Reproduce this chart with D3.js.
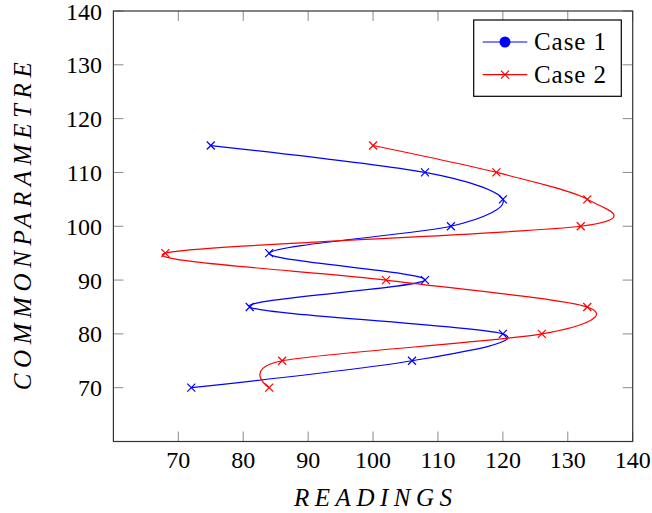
<!DOCTYPE html>
<html>
<head>
<meta charset="utf-8">
<script src="https://cdn.jsdelivr.net/npm/d3@7"></script>
<style>
  body { margin: 0; background: #fff; }
  svg text { font-family: "Liberation Serif", "DejaVu Serif", "Times New Roman", Times, serif; }
</style>
</head>
<body>
<script>
// Data
const params = [70, 75, 80, 85, 90, 95, 100, 105, 110, 115];
const case1 = [72, 106, 120, 81, 108, 84, 112, 120, 108, 75];
const case2 = [84, 86, 126, 133, 102, 68, 132, 133, 119, 100];
const ticks = [70, 80, 90, 100, 110, 120, 130, 140];

const width = 652, height = 513;
const plotLeft = 113.4, plotRight = 632.7, plotTop = 11, plotBottom = 441.5;

const svg = d3.select("body").append("svg")
	.attr("width", width)
	.attr("height", height);

const x = d3.scaleLinear().domain([60, 140]).range([plotLeft, plotRight]);
const y = d3.scaleLinear().domain([60, 140]).range([plotBottom, plotTop]);

// tick marks, all four sides, pointing inward
const tickLen = 10;
const tickG = svg.append("g").attr("stroke", "#8a8a8a").attr("stroke-width", 1);
ticks.forEach(t => {
	tickG.append("line").attr("x1", x(t)).attr("x2", x(t)).attr("y1", plotBottom).attr("y2", plotBottom - tickLen);
	tickG.append("line").attr("x1", x(t)).attr("x2", x(t)).attr("y1", plotTop).attr("y2", plotTop + tickLen);
	tickG.append("line").attr("y1", y(t)).attr("y2", y(t)).attr("x1", plotLeft).attr("x2", plotLeft + tickLen);
	tickG.append("line").attr("y1", y(t)).attr("y2", y(t)).attr("x1", plotRight).attr("x2", plotRight - tickLen);
});

// tick labels
svg.append("g").selectAll("text").data(ticks).join("text")
	.attr("x", d => x(d))
	.attr("y", plotBottom + 26.5)
	.attr("text-anchor", "middle")
	.style("font-size", "24px")
	.text(d => d);

svg.append("g").selectAll("text").data(ticks).join("text")
	.attr("x", plotLeft - 11.5)
	.attr("y", d => y(d) + 8.5)
	.attr("text-anchor", "end")
	.style("font-size", "24px")
	.text(d => d);

// series
const line = d3.line()
	.x(d => x(d[0]))
	.y(d => y(d[1]))
	.curve(d3.curveCardinal.tension(0.1));

const series = [
	{ name: "Case 1", color: "#0000ff", values: case1 },
	{ name: "Case 2", color: "#ff0000", values: case2 }
];

const plot = svg.append("g");
series.forEach(s => {
	const pts = params.map((p, i) => [s.values[i], p]);
	plot.append("path")
		.attr("d", line(pts))
		.attr("fill", "none")
		.attr("stroke", s.color)
		.attr("stroke-width", 1.2);
	const m = 4;
	plot.append("g").selectAll("path").data(pts).join("path")
		.attr("d", d => `M${x(d[0]) - m},${y(d[1]) - m}L${x(d[0]) + m},${y(d[1]) + m}M${x(d[0]) - m},${y(d[1]) + m}L${x(d[0]) + m},${y(d[1]) - m}`)
		.attr("stroke", s.color)
		.attr("stroke-width", 1.2)
		.attr("fill", "none");
});

// frame
svg.append("rect")
	.attr("x", plotLeft).attr("y", plotTop)
	.attr("width", plotRight - plotLeft).attr("height", plotBottom - plotTop)
	.attr("fill", "none")
	.attr("stroke", "#333")
	.attr("stroke-width", 1.2);

// axis titles (math italic, stretched to the reference width)
svg.append("text")
	.attr("x", (plotLeft + plotRight) / 2)
	.attr("y", 506)
	.attr("text-anchor", "middle")
	.attr("textLength", 158)
	.attr("lengthAdjust", "spacing")
	.style("font-size", "25px")
	.style("font-style", "italic")
	.text("READINGS");

svg.append("text")
	.attr("transform", `translate(31,${(plotTop + plotBottom) / 2}) rotate(-90)`)
	.attr("text-anchor", "middle")
	.attr("textLength", 328)
	.attr("lengthAdjust", "spacing")
	.style("font-size", "25px")
	.style("font-style", "italic")
	.text("COMMONPARAMETRE");

// legend
const legend = svg.append("g");
legend.append("rect")
	.attr("x", 473.7).attr("y", 20)
	.attr("width", 147.6).attr("height", 76.3)
	.attr("fill", "#fff")
	.attr("stroke", "#000")
	.attr("stroke-width", 1.2);

series.forEach((s, i) => {
	const ly = 42 + i * 32.7;
	legend.append("line")
		.attr("x1", 482.7).attr("x2", 527.3)
		.attr("y1", ly).attr("y2", ly)
		.attr("stroke", s.color).attr("stroke-width", 1.2);
	if (i === 0) {
		legend.append("circle").attr("cx", 505).attr("cy", ly).attr("r", 5.5).attr("fill", s.color);
	} else {
		const m = 4;
		legend.append("path")
			.attr("d", `M${505 - m},${ly - m}L${505 + m},${ly + m}M${505 - m},${ly + m}L${505 + m},${ly - m}`)
			.attr("stroke", s.color).attr("stroke-width", 1.2);
	}
	legend.append("text")
		.attr("x", 534).attr("y", ly + 8)
		.attr("textLength", 72)
		.attr("lengthAdjust", "spacing")
		.style("font-size", "25px")
		.text(s.name);
});
</script>
</body>
</html>
